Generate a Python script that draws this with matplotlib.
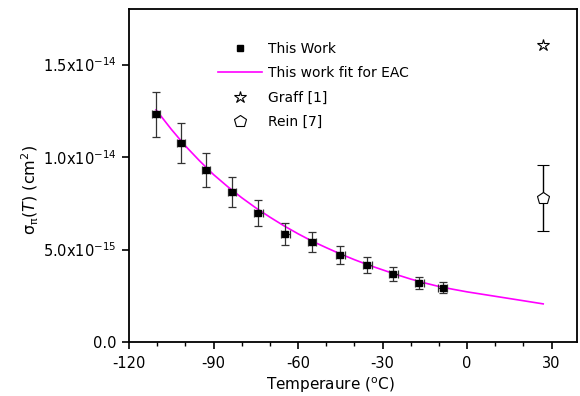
import matplotlib
matplotlib.use("Agg")
import matplotlib.pyplot as plt
from matplotlib.ticker import FixedLocator, MultipleLocator
from matplotlib.lines import Line2D

# Data
temp = [-110.4, -101.5, -92.6, -83.4, -74.1, -64.5, -55.0, -45.0, -35.4, -26.2, -16.9, -8.7]
sigma = [1.23e-14, 1.075e-14, 0.93e-14, 0.81e-14, 0.695e-14, 0.583e-14, 0.542e-14,
         0.470e-14, 0.415e-14, 0.367e-14, 0.320e-14, 0.294e-14]
sigma_err = [0.122e-14, 0.107e-14, 0.093e-14, 0.081e-14, 0.070e-14, 0.058e-14, 0.054e-14,
             0.047e-14, 0.042e-14, 0.037e-14, 0.032e-14, 0.029e-14]
temp_err = [1.5] * 12

fit_t = [-110.4, -105, -100, -95, -90, -85, -80, -75, -70, -65, -60, -55, -50, -45, -40,
         -35, -30, -25, -20, -15, -10, -5, 0, 5, 10, 15, 20, 27]
fit_s = [1.255e-14, 1.15e-14, 1.06e-14, 0.98e-14, 0.905e-14, 0.84e-14, 0.78e-14, 0.725e-14,
         0.675e-14, 0.628e-14, 0.585e-14, 0.545e-14, 0.51e-14, 0.476e-14, 0.445e-14,
         0.416e-14, 0.39e-14, 0.364e-14, 0.34e-14, 0.319e-14, 0.30e-14, 0.285e-14,
         0.271e-14, 0.259e-14, 0.247e-14, 0.235e-14, 0.223e-14, 0.206e-14]

graff_t = [26.8]
graff_s = [1.603e-14]
rein_t = [26.8]
rein_s = [0.778e-14]
rein_err = [0.18e-14]

yticks = [0.0, 5.0e-15, 1.0e-14, 1.5e-14]
ytick_labels = ["0.0", r"5.0x10$^{-15}$", r"1.0x10$^{-14}$", r"1.5x10$^{-14}$"]
xticks = [-120, -90, -60, -30, 0, 30]

plt.rcParams['font.family'] = ['DejaVu Sans']
plt.rcParams['mathtext.default'] = 'regular'
plt.rcParams['axes.unicode_minus'] = False

fig = plt.figure(figsize=(5.8, 3.96), dpi=100)
ax = fig.add_axes([129/580, 1 - 342/396, (577-129)/580, (342-9)/396])

ax.errorbar(temp, sigma, yerr=sigma_err, xerr=temp_err, fmt='s', color='black',
            ecolor='#333333', elinewidth=0.9, capsize=3, capthick=0.9, markersize=5,
            zorder=3)
ax.plot(fit_t, fit_s, color='#ff00ff', lw=1.2, zorder=2)
ax.plot(graff_t, graff_s, linestyle='none', marker='*', markersize=9, markerfacecolor='white',
        markeredgecolor='black', markeredgewidth=0.8)
ax.errorbar(rein_t, rein_s, yerr=rein_err, fmt='p', markersize=9, markerfacecolor='white',
            markeredgecolor='black', markeredgewidth=0.8, ecolor='black', elinewidth=1.0,
            capsize=4, capthick=1.0)

ax.set_xlim(-120, 39)
ax.set_ylim(0, 1.8e-14)
ax.set_xticks(xticks)
ax.xaxis.set_minor_locator(MultipleLocator(10))
ax.yaxis.set_major_locator(FixedLocator(yticks))
ax.set_yticklabels(ytick_labels)
ax.tick_params(axis='both', which='major', direction='out', length=5, width=1.2,
               labelsize=10.5, pad=4)
ax.tick_params(axis='x', which='major', pad=5)
ax.tick_params(axis='x', which='minor', direction='out', length=3, width=1.0)
for s in ax.spines.values():
    s.set_linewidth(1.3)

ax.set_xlabel(r'Temperaure ($^{o}$C)', fontsize=11, labelpad=1)
ax.xaxis.set_label_coords(0.449, -0.1)
ax.set_ylabel(r'$\sigma_{\pi}$($\it{T}$) (cm$^{2}$)', fontsize=11.5, labelpad=2)
ax.yaxis.set_label_coords(-0.197, 0.456)

handles = [
    Line2D([], [], linestyle='none', marker='s', color='black', markersize=5),
    Line2D([], [], color='#ff00ff', lw=1.2),
    Line2D([], [], linestyle='none', marker='*', markersize=9, markerfacecolor='white',
           markeredgecolor='black', markeredgewidth=0.8),
    Line2D([], [], linestyle='none', marker='p', markersize=9, markerfacecolor='white',
           markeredgecolor='black', markeredgewidth=0.8),
]
labels = ['This Work', 'This work fit for EAC', 'Graff [1]', 'Rein [7]']
leg = ax.legend(handles, labels, loc='upper left', bbox_to_anchor=(0.17, 0.939),
                frameon=False, fontsize=10, handlelength=3.2, labelspacing=0.75,
                handletextpad=0.4)

fig.savefig('out.png', dpi=100)
